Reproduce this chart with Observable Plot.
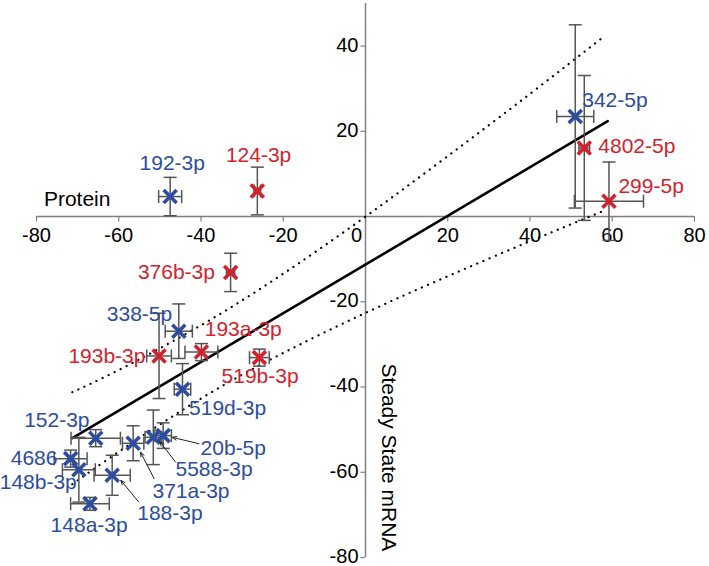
<!DOCTYPE html>
<html><head><meta charset="utf-8">
<script src="https://cdn.jsdelivr.net/npm/d3@7"></script>
<script src="https://cdn.jsdelivr.net/npm/@observablehq/plot@0.6"></script>
<style>body{margin:0;background:#fff}</style>
</head><body><div id="chart"></div>
<script>
// miRNA names and values (Protein = x, Steady State mRNA = y)
const names = ["192-3p","124-3p","342-5p","4802-5p","299-5p","376b-3p","338-5p","193b-3p","193a-3p","519b-3p","519d-3p","152-3p","371a-3p","5588-3p","20b-5p","4686","148b-3p","188-3p","148a-3p"];
const groups = ["down","up","down","up","up","up","down","up","up","up","down","down","down","down","down","down","down","down","down"];
const protein = [-47.5,-26.3,51.0,53.2,59.2,-32.8,-45.4,-50.2,-39.9,-25.8,-44.5,-65.6,-56.5,-51.6,-49.2,-71.7,-69.7,-61.6,-67.0];
const mrna    = [4.7,6.0,23.5,16.1,3.6,-13.1,-26.9,-32.7,-31.8,-33.1,-40.5,-52.0,-53.2,-51.8,-51.4,-56.8,-59.4,-60.7,-67.4];
const proteinErr = [2.8,0.8,4.5,1.3,8.4,1.0,3.3,3.0,4.0,2.4,2.0,6.0,2.6,2.0,2.0,4.0,4.0,4.4,4.7];
const mrnaErr    = [4.5,5.6,21.5,17.0,9.2,4.5,6.4,10.0,2.0,2.0,6.0,2.0,4.1,6.4,3.0,2.0,7.6,4.7,1.5];

// label anchor positions (data units)
const labelX = [-47.0,-26.0,52.7,56.6,61.5,-36.6,-47.0,-53.5,-39.1,-35.0,-42.9,-83.0,-51.8,-46.2,-40.1,-74.9,-70.2,-55.5,-67.2];
const labelY = [12.5,14.4,27.3,16.4,7.0,-13.1,-23.0,-32.7,-26.5,-37.4,-45.0,-47.7,-64.4,-59.2,-54.3,-56.7,-62.3,-69.6,-72.4];
const labelAnchor = ["middle","middle","start","start","start","end","end","end","start","start","start","start","start","start","start","end","end","start","middle"];

// leader arrows
const arrowFromX = [-55.2,-51.4,-46.2,-40.5];
const arrowFromY = [-66.9,-61.5,-57.6,-53.3];
const arrowToX   = [-59.5,-54.7,-50.0,-47.0];
const arrowToY   = [-61.9,-55.3,-52.8,-51.8];

// regression line and dotted confidence band
const fitX = [-71.3, 58.9];
const fitY = [-52.0, 22.4];
const bandX     = [-71.3,-60,-40,-20,0,20,40,58.3];
const bandUpper = [-41.2,-36.0,-25.5,-13.4,0.0,14.2,28.8,42.5];
const bandLower = [-62.8,-55.2,-42.7,-32.0,-22.6,-14.0,-5.8,1.5];

const xTicks = [-80,-60,-40,-20,0,20,40,60,80];
const yTicks = [40,20,-20,-40,-60,-80];

const colors = {up:"#d3222d", down:"#2c4da0"};
const errColor = "#555";

const pts = names.map((n,i)=>({name:n, g:groups[i], x:protein[i], y:mrna[i], ex:proteinErr[i], ey:mrnaErr[i], lx:labelX[i], ly:labelY[i], a:labelAnchor[i]}));
const fit = fitX.map((x,i)=>({x, y:fitY[i]}));
const up = bandX.map((x,i)=>({x, y:bandUpper[i]}));
const lo = bandX.map((x,i)=>({x, y:bandLower[i]}));
const arrows = arrowFromX.map((x,i)=>({x1:x, y1:arrowFromY[i], x2:arrowToX[i], y2:arrowToY[i]}));

const capH = {draw(c){c.moveTo(-6.5,0);c.lineTo(6.5,0);}};
const capV = {draw(c){c.moveTo(0,-6.5);c.lineTo(0,6.5);}};
const cross = {draw(c){const r=6.5;c.moveTo(-r,-r);c.lineTo(r,r);c.moveTo(r,-r);c.lineTo(-r,r);}};

const labelMarks = ["start","middle","end"].map(a =>
  Plot.text(pts.filter(d=>d.a===a), {x:"lx", y:"ly", text:"name", fill:d=>colors[d.g], textAnchor:a, lineAnchor:"middle", fontSize:21})
);

const chart = Plot.plot({
  width:709, height:566,
  marginLeft:36, marginRight:15, marginTop:3, marginBottom:9,
  x:{domain:[-80,80], axis:null},
  y:{domain:[-80,50], axis:null},
  style:{fontFamily:"'Liberation Sans', Arial, Helvetica, sans-serif", background:"white", overflow:"visible"},
  marks:[
    // axes crossing at origin
    Plot.ruleY([0], {x1:-80, x2:80, stroke:"#808080", strokeWidth:1.5}),
    Plot.ruleX([0], {y1:-80, y2:50, stroke:"#808080", strokeWidth:1.5}),
    Plot.ruleX(xTicks, {x:d=>d, y1:0, y2:-1.3, stroke:"#808080", strokeWidth:1.2}),
    Plot.ruleY(yTicks, {y:d=>d, x1:-1.1, x2:0, stroke:"#808080", strokeWidth:1.2}),
    Plot.text(xTicks.filter(d=>d!==0), {x:d=>d, y:0, dy:19, text:d=>String(d), fill:"black", fontSize:20, lineAnchor:"middle"}),
    Plot.text(xTicks.filter(d=>d===0), {x:d=>d, y:0, dy:19, dx:-9, text:d=>String(d), fill:"black", fontSize:20, lineAnchor:"middle"}),
    Plot.text(yTicks, {x:0, y:d=>d, dx:-7, dy:-1, text:d=>String(d), fill:"black", fontSize:20, textAnchor:"end", lineAnchor:"middle"}),
    Plot.text(["Protein"], {x:-78.2, y:4.1, text:d=>d, textAnchor:"start", lineAnchor:"middle", fontSize:21, fill:"black"}),
    Plot.text(["Steady State mRNA"], {x:5.6, y:-56.5, text:d=>d, rotate:90, lineAnchor:"middle", fontSize:21, fill:"black"}),
    // confidence band and fit
    Plot.line(up, {x:"x", y:"y", curve:"natural", stroke:"black", strokeWidth:2.2, strokeDasharray:"0.1,6.6", strokeLinecap:"round"}),
    Plot.line(lo, {x:"x", y:"y", curve:"natural", stroke:"black", strokeWidth:2.2, strokeDasharray:"0.1,6.6", strokeLinecap:"round"}),
    Plot.line(fit, {x:"x", y:"y", stroke:"black", strokeWidth:2.6}),
    // error bars
    Plot.ruleX(pts, {x:"x", y1:d=>d.y-d.ey, y2:d=>d.y+d.ey, stroke:errColor, strokeWidth:1.5}),
    Plot.ruleY(pts, {y:"y", x1:d=>d.x-d.ex, x2:d=>d.x+d.ex, stroke:errColor, strokeWidth:1.5}),
    Plot.dot(pts, {x:"x", y:d=>d.y+d.ey, symbol:capH, fill:"none", stroke:errColor, strokeWidth:1.5}),
    Plot.dot(pts, {x:"x", y:d=>d.y-d.ey, symbol:capH, fill:"none", stroke:errColor, strokeWidth:1.5}),
    Plot.dot(pts, {x:d=>d.x+d.ex, y:"y", symbol:capV, fill:"none", stroke:errColor, strokeWidth:1.5}),
    Plot.dot(pts, {x:d=>d.x-d.ex, y:"y", symbol:capV, fill:"none", stroke:errColor, strokeWidth:1.5}),
    // markers
    Plot.dot(pts, {x:"x", y:"y", symbol:cross, fill:"none", stroke:d=>colors[d.g], strokeWidth:3.6}),
    ...labelMarks,
    Plot.arrow(arrows, {x1:"x1", y1:"y1", x2:"x2", y2:"y2", stroke:"#222", strokeWidth:1, headLength:7, headAngle:45})
  ]
});
document.getElementById("chart").appendChild(chart);
</script>
</body></html>
